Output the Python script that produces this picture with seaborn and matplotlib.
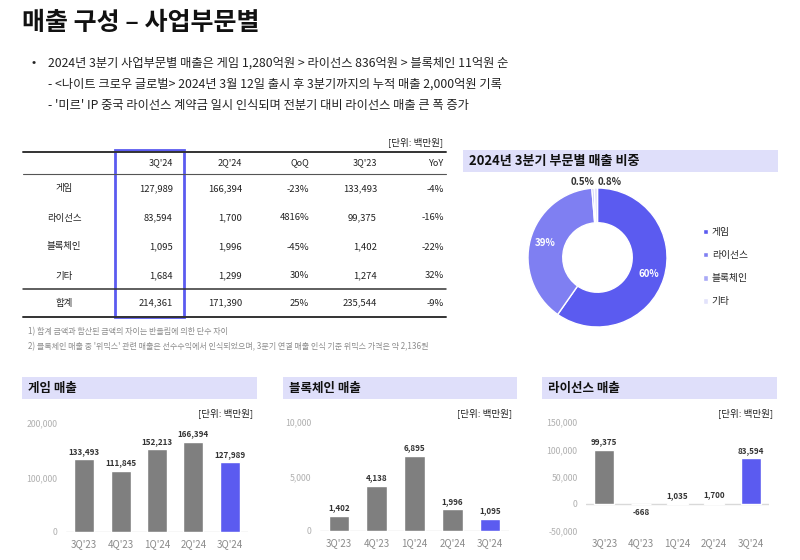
import matplotlib
matplotlib.use('Agg')
import matplotlib.pyplot as plt
from matplotlib.patches import Rectangle
from matplotlib.ticker import FuncFormatter
import numpy as np
import seaborn as sns

# ---- data ----
page_title = '매출 구성 – 사업부문별'
bullet_lines = [
    '2024년 3분기 사업부문별 매출은 게임 1,280억원 > 라이선스 836억원 > 블록체인 11억원 순',
    '- <나이트 크로우 글로벌> 2024년 3월 12일 출시 후 3분기까지의 누적 매출 2,000억원 기록',
    "- '미르' IP 중국 라이선스 계약금 일시 인식되며 전분기 대비 라이선스 매출 큰 폭 증가",
]
footnotes = [
    '1) 합계 금액과 합산된 금액의 차이는 반올림에 의한 단수 차이',
    "2) 블록체인 매출 중 '위믹스' 관련 매출은 선수수익에서 인식되었으며, 3분기 연결 매출 인식 기준 위믹스 가격은 약 2,136원",
]
unit_label = '[단위: 백만원]'

segments = ['게임', '라이선스', '블록체인', '기타']
table_cols = ["3Q'24", "2Q'24", 'QoQ', "3Q'23", 'YoY']
sales_3q24 = [127989, 83594, 1095, 1684]
sales_2q24 = [166394, 1700, 1996, 1299]
qoq = ['-23%', '4816%', '-45%', '30%']
sales_3q23 = [133493, 99375, 1402, 1274]
yoy = ['-4%', '-16%', '-22%', '32%']
total_label = '합계'
total_row = ['214,361', '171,390', '25%', '235,544', '-9%']

pie_title = '2024년 3분기 부문별 매출 비중'
pie_colors = ['#5b5bf0', '#7f7ff2', '#a9a9f6', '#e2e2fb']

quarters = ["3Q'23", "4Q'23", "1Q'24", "2Q'24", "3Q'24"]
game_sales = [133493, 111845, 152213, 166394, 127989]
chain_sales = [1402, 4138, 6895, 1996, 1095]
license_sales = [99375, -668, 1035, 1700, 83594]

GRAY = '#7f7f7f'
BLUE = '#5b5bf0'
LAV = '#dfdffa'
DARK = '#222222'

sns.set_theme(style='white')
plt.rcParams['font.family'] = ['Noto Sans CJK KR', 'DejaVu Sans']

W, H = 800, 560
fig = plt.figure(figsize=(8, 5.6), dpi=100)

# page canvas in pixel coordinates
bg = fig.add_axes([0, 0, 1, 1])
bg.set_xlim(0, W)
bg.set_ylim(H, 0)
bg.axis('off')

bg.text(22, 23, page_title, fontsize=18, fontweight='bold', va='center', color='#111111')
bg.text(31, 63, '•', fontsize=9, va='center', color=DARK)
for y, line in zip([63, 84, 106], bullet_lines):
    bg.text(48, y, line, fontsize=8.8, va='center', color=DARK)

# ---- table ----
bg.text(443, 142, unit_label, fontsize=6.9, ha='right', va='center', color=DARK)
col_x = [173, 242, 309, 377, 444]
bg.plot([23, 446], [151.5, 151.5], color='#333333', lw=1.4)
bg.plot([23, 446], [174, 174], color='#555555', lw=0.8)
bg.plot([23, 446], [289, 289], color='#333333', lw=1.1)
bg.plot([23, 446], [317, 317], color='#333333', lw=1.4)
for x, c in zip(col_x, table_cols):
    bg.text(x, 163, c, fontsize=6.5, ha='right', va='center', color=DARK)
rows = zip(segments, sales_3q24, sales_2q24, qoq, sales_3q23, yoy)
for y, (name, a, b, q, c, yy) in zip([189, 218, 247, 276], rows):
    bg.text(64, y, name, fontsize=6.8, ha='center', va='center', color=DARK)
    for x, v in zip(col_x, [f'{a:,}', f'{b:,}', q, f'{c:,}', yy]):
        bg.text(x, y, v, fontsize=6.8, ha='right', va='center', color=DARK)
bg.text(64, 303, total_label, fontsize=6.8, ha='center', va='center', color=DARK)
for x, v in zip(col_x, total_row):
    bg.text(x, 303, v, fontsize=6.8, ha='right', va='center', color=DARK)
bg.add_patch(Rectangle((115, 150), 69, 167, fill=False, edgecolor=BLUE, lw=2))
for y, note in zip([332, 347], footnotes):
    bg.text(28, y, note, fontsize=5.8, va='center', color='#8c8c8c')

# ---- section title bars ----
def title_bar(x0, x1, y0, y1, text, size=9):
    bg.add_patch(Rectangle((x0, y0), x1 - x0, y1 - y0, color=LAV, lw=0))
    bg.text(x0 + 6, (y0 + y1) / 2 + 0.5, text, fontsize=size, fontweight='bold',
            va='center', color='#111111')

title_bar(463, 778, 150, 172, pie_title, size=9.4)
title_bar(22, 257, 377, 399, '게임 매출')
title_bar(283, 517, 377, 399, '블록체인 매출')
title_bar(542, 777, 377, 399, '라이선스 매출')
for x in [253, 512, 773]:
    bg.text(x, 413, unit_label, fontsize=6.9, ha='right', va='center', color=DARK)

# ---- donut ----
cx, cy, r = 597.5, 257.5, 69.5
half = r * 1.25
pax = fig.add_axes([(cx - half) / W, 1 - (cy + half) / H, 2 * half / W, 2 * half / H])

def pct_fmt(p):
    return f'{p:.0f}%' if p >= 1 else f'{p:.1f}%'

wedges, _, autotexts = pax.pie(
    sales_3q24, colors=pie_colors, startangle=90, counterclock=False,
    autopct=pct_fmt, pctdistance=0.78,
    wedgeprops=dict(width=0.5, edgecolor='white', linewidth=1),
)
pax.set_xlim(-1.25, 1.25)
pax.set_ylim(-1.25, 1.25)
pax.set_aspect('equal')
for t in autotexts[:2]:
    t.set_color('white')
    t.set_fontsize(7)
    t.set_fontweight('bold')
for t, w, dx in zip(autotexts[2:], wedges[2:], [-0.15, 0.2]):
    ang = np.deg2rad((w.theta1 + w.theta2) / 2)
    t.set_position((np.cos(ang) * 1.08 + dx, 1.08))
    t.set_color('#333333')
    t.set_fontsize(7)
    t.set_fontweight('bold')
pax.legend(wedges, segments, loc='upper left', bbox_to_anchor=(703 / W, 1 - 227 / H),
           bbox_transform=fig.transFigure, frameon=False, fontsize=7,
           handlelength=0.5, handleheight=0.5, handletextpad=0.4,
           labelspacing=1.35, borderaxespad=0, borderpad=0)

# ---- bar panels ----
def bar_panel(left, right, y_lo_px, y_hi_px, ylim, ticks, values):
    ax = fig.add_axes([left / W, 1 - y_lo_px / H, (right - left) / W, (y_lo_px - y_hi_px) / H])
    ax.set_facecolor('none')
    sns.barplot(x=quarters, y=values, color=GRAY, width=0.55, saturation=1, ax=ax)
    ax.patches[-1].set_facecolor(BLUE)
    ax.set_xlim(-0.5, len(quarters) - 0.5)
    ax.set_ylim(*ylim)
    ax.set_yticks(ticks)
    ax.yaxis.set_major_formatter(FuncFormatter(lambda v, _: f'{v:,.0f}'))
    ax.axhline(0, color='#d9d9d9', lw=1, zorder=0)
    for s in ax.spines.values():
        s.set_visible(False)
    ax.tick_params(axis='y', length=0, pad=6, labelsize=6.3, labelcolor='#b0b0b0')
    ax.tick_params(axis='x', length=0, pad=5, labelsize=7, labelcolor='#8a8a8a')
    ax.set_xlabel('')
    ax.set_ylabel('')
    ax.bar_label(ax.containers[0], fmt='{:,.0f}', padding=2.5,
                 fontsize=5.8, fontweight='bold', color='#333333')
    return ax

bar_panel(66, 248, 531.7, 423.3, (0, 200000), [0, 100000, 200000], game_sales)
bar_panel(320, 509, 531, 422, (0, 10000), [0, 5000, 10000], chain_sales)
bar_panel(586, 769, 531, 422.3, (-50000, 150000), [-50000, 0, 50000, 100000, 150000], license_sales)

fig.savefig('out.png', dpi=100, facecolor='white')
